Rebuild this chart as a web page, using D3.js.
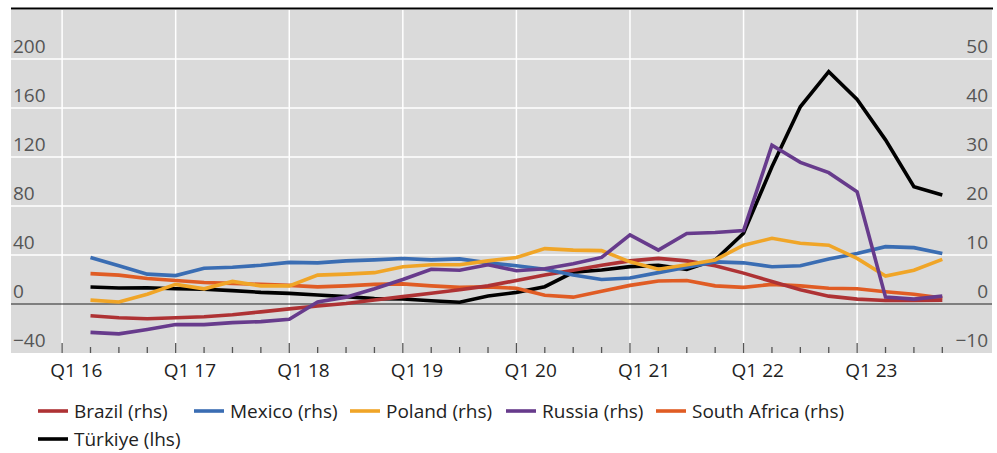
<!DOCTYPE html>
<html><head><meta charset="utf-8">
<script src="https://cdn.jsdelivr.net/npm/d3@7/dist/d3.min.js"></script>
<style>
html,body{margin:0;padding:0;background:#fff;}
svg{display:block;font-family:"Open Sans","Noto Sans",sans-serif;}
</style></head><body>
<svg id="chart" width="997" height="453"></svg>
<script>
// Quarter labels (axis), data runs Q2 16 .. Q4 23 (index 1..31)
const yearLabels = ["Q1 16","Q1 17","Q1 18","Q1 19","Q1 20","Q1 21","Q1 22","Q1 23"];
const nQuarters = 32;
const leftTicks = [-40, 0, 40, 80, 120, 160, 200];
const rightTicks = [-10, 0, 10, 20, 30, 40, 50];

const brazil = [-2.4,-2.8,-3.0,-2.8,-2.6,-2.2,-1.6,-1.0,-0.4,0.1,0.8,1.5,2.2,2.9,3.7,4.8,5.9,6.9,7.9,8.8,9.3,8.8,7.8,6.3,4.6,2.9,1.6,1.0,0.7,0.7,0.8];
const mexico = [9.5,7.8,6.1,5.8,7.3,7.5,7.9,8.5,8.4,8.8,9.0,9.3,9.0,9.2,8.4,7.8,7.1,5.9,5.0,5.3,6.4,7.5,8.6,8.4,7.6,7.8,9.2,10.3,11.7,11.5,10.3];
const poland = [0.8,0.4,2.0,4.0,3.1,4.6,3.7,3.7,5.9,6.1,6.4,7.6,8.0,8.0,8.8,9.5,11.3,11.0,10.9,8.6,7.1,8.0,9.0,12.0,13.4,12.4,12.0,9.3,5.7,6.9,9.1];
const russia = [-5.8,-6.1,-5.2,-4.2,-4.2,-3.8,-3.6,-3.1,0.4,1.4,3.1,5.0,7.1,6.9,8.0,6.8,7.2,8.2,9.5,14.1,11.0,14.4,14.6,15.0,32.4,28.9,26.8,22.9,1.4,1.0,1.6];
const southAfrica = [6.2,5.9,5.2,4.8,4.4,4.2,4.0,3.8,3.5,3.7,4.0,4.1,3.7,3.4,3.5,3.2,1.8,1.4,2.6,3.8,4.7,4.8,3.7,3.4,4.0,3.7,3.2,3.1,2.5,2.0,1.2];
const turkiye = [13.9,13.1,13.3,12.5,12.0,10.9,9.5,8.7,7.3,6.0,4.4,4.1,2.7,1.4,6.5,9.5,14.1,25.9,27.8,30.5,31.5,28.3,35.9,57.7,112,161,189.6,167,134,95.8,89];

const seriesNames = ["Brazil (rhs)","Mexico (rhs)","Poland (rhs)","Russia (rhs)","South Africa (rhs)","Türkiye (lhs)"];
const seriesData = [brazil, mexico, poland, russia, southAfrica, turkiye];
const seriesAxis = ["r","r","r","r","r","l"];
const colors = ["#ae3234","#3a6db3","#f0a527","#673b8c","#e05c24","#000000"];

const svg = d3.select("#chart");
const L = 11, R = 992, T = 10, B = 353;
const x = d3.scaleLinear().domain([-1.8, 32.75]).range([L, R]);
const yL = d3.scaleLinear().domain([-40, 240]).range([B, T]);
const yR = d3.scaleLinear().domain([-10, 60]).range([B, T]);

// background
svg.append("rect").attr("x", L).attr("y", T).attr("width", R - L).attr("height", B - T).attr("fill", "#dadada");
// top rule
svg.append("line").attr("x1", L).attr("x2", R + 1).attr("y1", 8.5).attr("y2", 8.5).attr("stroke", "#000").attr("stroke-width", 2);

// horizontal grid
svg.append("g").selectAll("line").data(leftTicks.filter(d => d !== 0 && d !== -40)).join("line")
  .attr("x1", L).attr("x2", R).attr("y1", d => yL(d)).attr("y2", d => yL(d))
  .attr("stroke", "#fff").attr("stroke-width", 1.5);
// vertical grid at Q1
const q1Idx = d3.range(0, nQuarters, 4);
svg.append("g").selectAll("line").data(q1Idx).join("line")
  .attr("x1", d => x(d)).attr("x2", d => x(d)).attr("y1", T).attr("y2", B)
  .attr("stroke", "#fff").attr("stroke-width", 1.5);

// ticks
svg.append("g").selectAll("line").data(d3.range(0, nQuarters)).join("line")
  .attr("x1", d => x(d)).attr("x2", d => x(d))
  .attr("y1", d => d % 4 === 0 ? B - 10 : B - 6).attr("y2", B)
  .attr("stroke", "#555").attr("stroke-width", 1.3);

// zero line
svg.append("line").attr("x1", L).attr("x2", R).attr("y1", yL(0)).attr("y2", yL(0)).attr("stroke", "#222").attr("stroke-width", 1);

// axis labels
const fs = 19;
svg.append("g").selectAll("text").data(leftTicks).join("text")
  .attr("x", 13).attr("y", d => yL(d) - 6).attr("font-size", fs).attr("fill", "#555")
  .text(d => d < 0 ? "\u2212" + Math.abs(d) : d);
svg.append("g").selectAll("text").data(rightTicks).join("text")
  .attr("x", 988).attr("y", d => yR(d) - 6).attr("text-anchor", "end").attr("font-size", fs).attr("fill", "#555")
  .text(d => d < 0 ? "\u2212" + Math.abs(d) : d);
svg.append("g").selectAll("text").data(yearLabels).join("text")
  .attr("x", (d, i) => x(i * 4 + 0.5)).attr("y", 377).attr("text-anchor", "middle").attr("font-size", fs).attr("fill", "#222")
  .text(d => d);

// lines
const drawOrder = [5, 4, 0, 1, 2, 3];
drawOrder.forEach(k => {
  const ys = seriesAxis[k] === "l" ? yL : yR;
  const line = d3.line().x((d, i) => x(i + 1)).y(d => ys(d));
  svg.append("path").datum(seriesData[k]).attr("d", line)
    .attr("fill", "none").attr("stroke", colors[k]).attr("stroke-width", 3.6)
    .attr("stroke-linejoin", "miter").attr("stroke-linecap", "butt");
});

// legend
const legendX = [38, 194, 350, 506, 656, 38];
const legendY = [411, 411, 411, 411, 411, 439];
seriesNames.forEach((name, k) => {
  const g = svg.append("g");
  g.append("line").attr("x1", legendX[k]).attr("x2", legendX[k] + 30).attr("y1", legendY[k]).attr("y2", legendY[k])
    .attr("stroke", colors[k]).attr("stroke-width", 3.6);
  g.append("text").attr("x", legendX[k] + 36).attr("y", legendY[k] + 6.5).attr("font-size", fs).attr("fill", "#222").text(name);
});
</script>
</body></html>
